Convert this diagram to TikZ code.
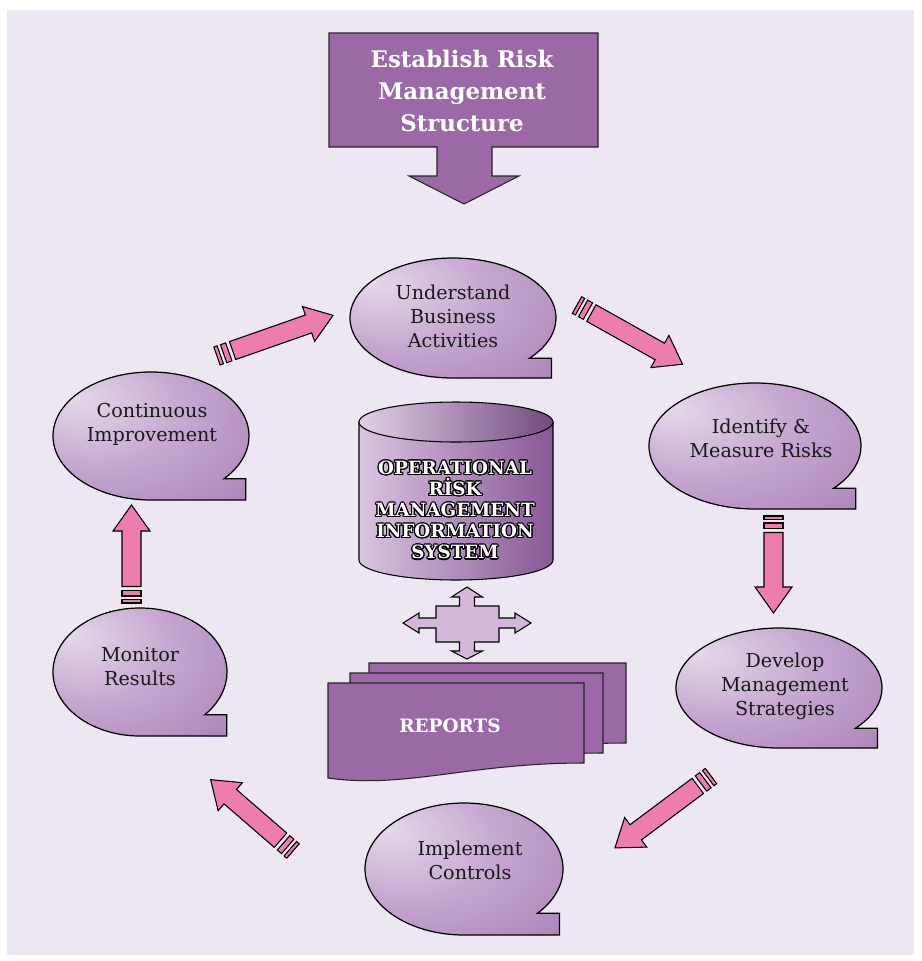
\documentclass[tikz,border=0pt]{standalone}
\usepackage{fontspec}
\setmainfont{DejaVu Serif}
\usetikzlibrary{calc}

\definecolor{bgpurple}{RGB}{237,231,242}
\definecolor{boxpurple}{RGB}{155,106,166}
\definecolor{bubhi}{RGB}{230,216,235}
\definecolor{bubmid}{RGB}{198,168,208}
\definecolor{bublo}{RGB}{166,124,178}
\definecolor{arrowpink}{RGB}{237,125,172}
\definecolor{crosspurple}{RGB}{213,183,219}
\definecolor{cyllight}{RGB}{218,196,224}
\definecolor{cyldark}{RGB}{135,88,150}

\pgfdeclareradialshading{bubshade}{\pgfpoint{-20bp}{15bp}}{color(0bp)=(bubhi); color(22bp)=(bubmid); color(50bp)=(bublo); color(70bp)=(bublo)}

% speech bubble: name, ellipse centre, x radius, y radius, text position, text
\newcommand{\bubble}[6]{%
  \path[bubshape] (#2) ++(0,#4) coordinate (#1-foot)
    arc[start angle=90, end angle=402, x radius=#3, y radius=#4]
    -- ++(22,0) |- (#1-foot) -- cycle;
  \node[bubtext] (#1) at (#5) {#6};
}

% striped block arrow: tail coordinate, angle, length
\newcommand{\stripearrow}[3]{%
  \begin{scope}[shift={(#1)}, rotate=#2, y=0.02cm]
    \draw[pinkbar] (0,-9.5) rectangle (3.5,9.5);
    \draw[pinkbar] (7,-9.5) rectangle (12.5,9.5);
    \draw[pinkbar] (16.5,-9.5) -- ({#3-26},-9.5) -- ({#3-26},-18.5) -- (#3,0)
      -- ({#3-26},18.5) -- ({#3-26},9.5) -- (16.5,9.5) -- cycle;
  \end{scope}}

\newcommand{\oristext}{OPERATIONAL\\RİSK\\MANAGEMENT\\INFORMATION\\SYSTEM}

\begin{document}
\begin{tikzpicture}[x=0.02cm, y=-0.02cm]
\tikzset{
bubshape/.style = {draw=black, line width=0.7pt, shading=bubshade},
bubtext/.style = {align=center, text=black!90, font=\fontsize{10.9}{13.6}\selectfont},
pinkbar/.style = {draw=black, line width=0.6pt, fill=arrowpink, line join=miter},
boxshape/.style = {draw=black!85, line width=0.6pt, fill=boxpurple},
titletext/.style = {align=center, text=white, font=\bfseries\fontsize{13}{18}\selectfont},
cyltext/.style = {align=center, font=\bfseries\fontsize{10.4}{12}\selectfont},
reptext/.style = {text=white, font=\bfseries\fontsize{10.5}{12}\selectfont}}

\useasboundingbox (0,0) rectangle (921,961);
\fill[bgpurple] (7,10) rectangle (914,955);

% title box with arrow
\draw[boxshape] (329,33) -- (598,33) -- (598,147) -- (492,147) -- (492,176) -- (519,176)
  -- (464,204) -- (409,176) -- (437,176) -- (437,147) -- (329,147) -- cycle;
\node[titletext] (estab) at (462,91) {Establish Risk\\Management\\Structure};

% bubbles
\bubble{understand}{453,318}{103}{60}{453,316}{Understand\\Business\\Activities}
\bubble{identify}{755,446}{106}{63}{761,438}{Identify \&\\Measure Risks}
\bubble{develop}{779,688}{103}{60}{785,686}{Develop\\Management\\Strategies}
\bubble{implement}{464,869}{99}{66}{470,860}{Implement\\Controls}
\bubble{monitor}{140,672}{87}{64}{140,667}{Monitor\\Results}
\bubble{continuous}{151,436}{98}{64}{152,424}{Continuous\\Improvement}

% pink arrows
\foreach \ax/\ay/\ang/\len [count=\i] in {217/356/19.3/123, 577/305/-29.3/121,
    773.5/516/-90/97, 711/776/-143.2/120, 293/851/139.1/109, 131.5/603/90/98}{
  \coordinate (arr\i) at (\ax,\ay);
  \stripearrow{arr\i}{\ang}{\len}
}

% database
\path[draw=black, line width=0.6pt, left color=cyllight, right color=cyldark]
  (359,422) -- (359,560) arc[start angle=180, end angle=0, x radius=97, y radius=20]
  -- (553,422) -- cycle;
\path[draw=black, line width=0.6pt, left color=cyllight!80!white, right color=cyldark!85!black]
  (456,422) ellipse[x radius=97, y radius=20];
\foreach \ang in {0,30,...,330}
  \node[cyltext, text=black, shift={(\ang:0.7pt)}] (oris-\ang) at (455,510) {\oristext};
\node[cyltext, text=white] (oris) at (455,510) {\oristext};

% four way arrow
\draw[line width=0.6pt, fill=crosspurple] (436,606) -- (459.5,606) -- (459.5,597) -- (451.5,597)
  -- (467,587) -- (482.5,597) -- (474.5,597) -- (474.5,606) -- (499,606) -- (499,618)
  -- (515,618) -- (515,613) -- (531,623) -- (515,633) -- (515,628) -- (499,628)
  -- (499,642) -- (474.5,642) -- (474.5,651) -- (482.5,651) -- (467,659) -- (451.5,651)
  -- (459.5,651) -- (459.5,642) -- (436,642) -- (436,628) -- (419,628) -- (419,633)
  -- (403,623) -- (419,613) -- (419,618) -- (436,618) -- cycle;

% report pages
\foreach \l/\t/\r/\b in {369/663/626/743, 350/673/603/753, 328/683/584/763}
  \draw[boxshape] (\l,\t) -- (\r,\t) -- (\r,\b)
    .. controls ({\l+0.55*(\r-\l)},\b) and ({\l+0.3*(\r-\l)},\b+26) .. (\l,\b+15) -- cycle;
\node[reptext] (reports) at (450,726) {REPORTS};

\end{tikzpicture}
\end{document}
